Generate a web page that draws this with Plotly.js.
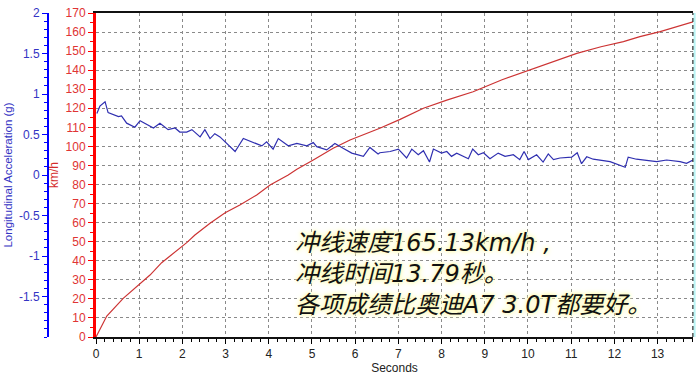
<!DOCTYPE html>
<html>
<head>
<meta charset="utf-8">
<script src="https://cdn.plot.ly/plotly-3.0.1.min.js"></script>
<style>html,body{margin:0;padding:0;background:#fff;}#chart{width:700px;height:386px;}</style>
</head>
<body>
<div id="chart"></div>
<script>
// Vehicle speed (km/h) vs time (s) — red series on the km/h axis
const timeSpeed = [0, 0.25, 0.63, 0.98, 1.25, 1.52, 1.79, 2.10, 2.29, 2.64, 2.99, 3.33, 3.72, 4.03, 4.45, 4.65, 5.03, 5.49, 5.88, 6.57, 7.04, 7.58, 8.12, 8.73, 9.40, 10.05, 10.59, 11.13, 11.69, 12.21, 12.59, 13.06, 13.82];
const speedKmh  = [0, 11.0, 20.3, 27.3, 32.5, 39.0, 43.9, 49.5, 53.5, 59.7, 65.2, 69.3, 74.5, 79.7, 85.0, 88.0, 92.9, 99.0, 103.4, 109.5, 114.2, 120.0, 124.3, 128.7, 135.0, 140.1, 144.4, 148.8, 152.3, 155.0, 157.6, 160.2, 165.4];

// Longitudinal acceleration (g) vs time (s) — blue series
const timeAccel = [0.02, 0.09, 0.21, 0.28, 0.52, 0.59, 0.71, 0.90, 1.02, 1.13, 1.33, 1.48, 1.67, 1.83, 1.94, 2.10, 2.22, 2.41, 2.52, 2.64, 2.75, 2.87, 2.99, 3.22, 3.41, 3.60, 3.84, 3.95, 4.10, 4.22, 4.45, 4.65, 4.88, 5.03, 5.11, 5.34, 5.53, 5.72, 5.92, 6.19, 6.34, 6.53, 6.57, 6.81, 7.00, 7.19, 7.31, 7.46, 7.58, 7.72, 7.81, 8.00, 8.12, 8.23, 8.35, 8.62, 8.72, 8.85, 8.97, 9.12, 9.31, 9.47, 9.66, 9.81, 9.91, 10.01, 10.20, 10.35, 10.47, 10.59, 10.74, 11.01, 11.14, 11.24, 11.36, 11.51, 11.67, 11.90, 12.25, 12.32, 12.51, 12.75, 12.98, 13.21, 13.36, 13.52, 13.67, 13.82];
const accelG    = [0.76, 0.85, 0.905, 0.77, 0.72, 0.73, 0.64, 0.59, 0.67, 0.64, 0.58, 0.64, 0.56, 0.58, 0.53, 0.53, 0.56, 0.47, 0.56, 0.45, 0.51, 0.47, 0.41, 0.29, 0.45, 0.41, 0.36, 0.41, 0.32, 0.45, 0.36, 0.39, 0.36, 0.40, 0.35, 0.31, 0.39, 0.33, 0.27, 0.23, 0.34, 0.26, 0.275, 0.29, 0.32, 0.21, 0.32, 0.25, 0.30, 0.16, 0.32, 0.27, 0.29, 0.23, 0.27, 0.20, 0.32, 0.25, 0.275, 0.20, 0.27, 0.23, 0.25, 0.19, 0.29, 0.19, 0.25, 0.16, 0.26, 0.19, 0.21, 0.22, 0.275, 0.14, 0.225, 0.195, 0.185, 0.165, 0.095, 0.22, 0.195, 0.18, 0.165, 0.185, 0.175, 0.165, 0.145, 0.185];

const speedTickVals = [0, 10, 20, 30, 40, 50, 60, 70, 80, 90, 100, 110, 120, 130, 140, 150, 160, 170];
const accelTickVals = [-1.5, -1, -0.5, 0, 0.5, 1, 1.5, 2];
const accelTickText = ['-1.5', '-1', '-0.5', '0', '0.5', '1', '1.5', '2'];
const timeTickVals  = [0, 1, 2, 3, 4, 5, 6, 7, 8, 9, 10, 11, 12, 13];

const noteText = '冲线速度165.13km/h ,<br>冲线时间13.79秒。<br>各项成绩比奥迪A7 3.0T都要好。';

const baseFont = 'Liberation Sans, Arial, sans-serif';
const ML = 40, MR = 7, W = 700;
const plotLeft = 96;
const domainStart = (plotLeft - ML) / (W - ML - MR);
const blueAxisPos = (48 - ML) / (W - ML - MR);

const traces = [
  {
    x: timeAccel, y: accelG, yaxis: 'y2', type: 'scatter', mode: 'lines',
    line: {color: '#2f2fb0', width: 1.2}, hoverinfo: 'skip', showlegend: false
  },
  {
    x: timeSpeed, y: speedKmh, yaxis: 'y', type: 'scatter', mode: 'lines',
    line: {color: '#cc3333', width: 1.2}, hoverinfo: 'skip', showlegend: false
  }
];

const layout = {
  width: 700, height: 386,
  margin: {l: ML, r: MR, t: 13, b: 49},
  paper_bgcolor: '#ffffff', plot_bgcolor: '#ffffff',
  font: {family: baseFont, size: 12, color: '#222'},
  showlegend: false,
  xaxis: {
    domain: [domainStart, 1],
    range: [0, 13.82],
    tickvals: timeTickVals,
    ticks: 'outside', ticklen: 5, tickcolor: '#000', tickwidth: 1,
    minor: {dtick: 0.2, ticks: 'outside', ticklen: 3, tickcolor: '#000', showgrid: false},
    showline: true, linecolor: '#111', linewidth: 2, mirror: true,
    showgrid: true, gridcolor: '#8a8a8a', griddash: '3px,3px', gridwidth: 1,
    zeroline: false,
    tickfont: {family: baseFont, size: 12, color: '#222'},
    title: {text: 'Seconds', font: {family: baseFont, size: 12, color: '#222'}, standoff: 3},
    automargin: false, fixedrange: true
  },
  yaxis: {
    range: [0, 170],
    tickvals: speedTickVals,
    ticks: 'outside', ticklen: 5, tickcolor: '#ff0000', tickwidth: 1,
    minor: {dtick: 5, ticks: 'outside', ticklen: 3, tickcolor: '#ff0000', showgrid: false},
    showline: true, linecolor: '#ff0000', linewidth: 3,
    showgrid: true, gridcolor: '#8a8a8a', griddash: '3px,3px', gridwidth: 1,
    zeroline: false,
    tickfont: {family: baseFont, size: 12, color: '#e03434'},
    title: {text: 'km/h', font: {family: baseFont, size: 12, color: '#d42b2b'}, standoff: 5},
    automargin: false, fixedrange: true
  },
  yaxis2: {
    overlaying: 'y', anchor: 'free', side: 'left', position: blueAxisPos,
    range: [-2, 2],
    tickvals: accelTickVals, ticktext: accelTickText,
    ticks: 'outside', ticklen: 5, tickcolor: '#0000ff', tickwidth: 1,
    minor: {dtick: 0.1, ticks: 'outside', ticklen: 3, tickcolor: '#0000ff', showgrid: false},
    showline: true, linecolor: '#0000ff', linewidth: 2,
    showgrid: false, zeroline: false,
    tickfont: {family: baseFont, size: 12, color: '#3434c4'},
    title: {text: 'Longitudinal Acceleration (g)', font: {family: baseFont, size: 11.5, color: '#3434c4'}, standoff: 3},
    automargin: false, fixedrange: true
  },
  shapes: [
    {type: 'line', xref: 'x domain', yref: 'y domain', x0: 1, x1: 1, y0: 0, y1: 1,
     line: {color: '#333333', width: 1.5, dash: '4px,3px'}},
    {type: 'line', xref: 'paper', yref: 'y domain', x0: 1.0025, x1: 1.0025, y0: 0, y1: 1,
     line: {color: '#b8f4f4', width: 2}}
  ],
  annotations: [
    {
      text: noteText, xref: 'x', yref: 'y', x: 4.55, y: 57.5,
      xanchor: 'left', yanchor: 'top', align: 'left', showarrow: false,
      font: {family: 'DejaVu Sans, Noto Sans CJK SC, sans-serif', size: 24, color: '#111111', style: 'italic',
             shadow: '0px 0px 3px #fdfab0, 0px 0px 5px #fdfab0, 0px 0px 7px #fefcc8'}
    }
  ]
};

Plotly.newPlot('chart', traces, layout, {staticPlot: true, displayModeBar: false});
</script>
</body>
</html>
